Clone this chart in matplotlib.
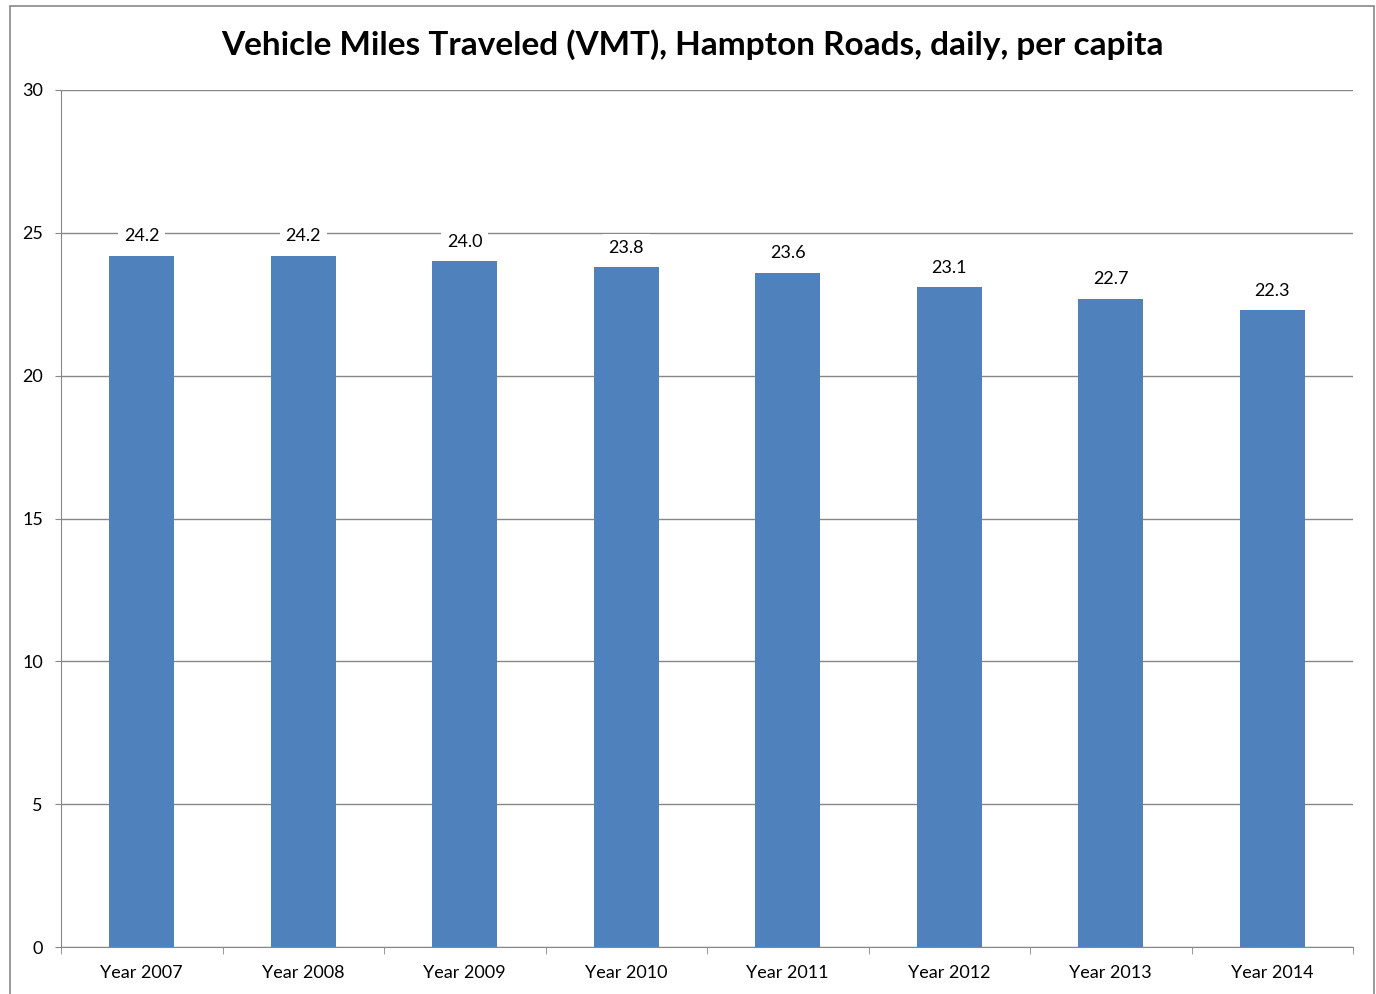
import numpy as np
import matplotlib.pyplot as plt
from matplotlib.patches import Rectangle

plt.rcParams['font.family'] = ['Lato', 'DejaVu Sans']

years = ["Year 2007", "Year 2008", "Year 2009", "Year 2010",
         "Year 2011", "Year 2012", "Year 2013", "Year 2014"]
vmt = [24.2, 24.2, 24.0, 23.8, 23.6, 23.1, 22.7, 22.3]
yticks = [0, 5, 10, 15, 20, 25, 30]

fig = plt.figure(figsize=(13.76, 9.94), dpi=100)
ax = fig.add_axes([61/1376, 1-947/994, (1353-61)/1376, (947-90)/994])

# outer chart border
fig.patches.append(Rectangle((10/1376, -0.05), (1374-10)/1376, 1.05-6/994,
                             transform=fig.transFigure, fill=False,
                             edgecolor='#878787', linewidth=1.2))

x = np.arange(len(years))
ax.bar(x, vmt, width=0.4, color='#4F81BD', zorder=3)

for xi, v in zip(x, vmt):
    ax.text(xi, v + 0.4, f"{v:.1f}", ha='center', va='bottom', fontsize=13,
            zorder=4, bbox=dict(facecolor='white', edgecolor='none', pad=4))

ax.set_xlim(-0.5, len(years) - 0.5)
ax.set_ylim(0, 30)
ax.set_yticks(yticks)
ax.tick_params(axis='y', labelsize=13, length=4, color='#878787', pad=9)
ax.set_xticks(x)
ax.set_xticklabels(years, fontsize=13)
ax.set_xticks(np.arange(len(years) + 1) - 0.5, minor=True)
ax.tick_params(axis='x', which='major', length=0, pad=13)
ax.tick_params(axis='x', which='minor', length=5, color='#878787')

ax.grid(axis='y', color='#878787', linewidth=1.0, zorder=0)
for s in ['top', 'right']:
    ax.spines[s].set_visible(False)
ax.spines['left'].set_color('#878787')
ax.spines['bottom'].set_color('#878787')

fig.text(692/1376, 1-45/994, "Vehicle Miles Traveled (VMT), Hampton Roads, daily, per capita",
         ha='center', va='center', fontsize=24, fontweight='bold')

fig.savefig("out.png", dpi=100)
